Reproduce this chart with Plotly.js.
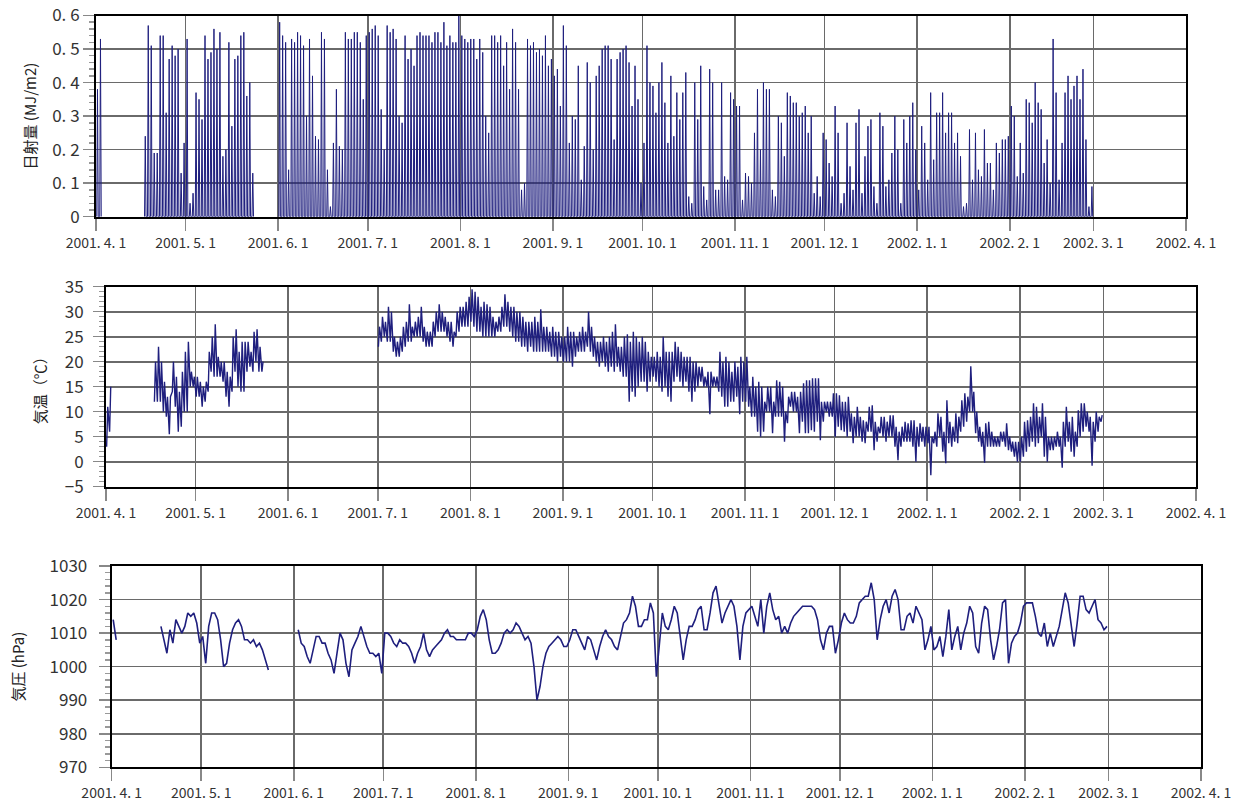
<!DOCTYPE html>
<html><head><meta charset="utf-8">
<script src="https://cdn.plot.ly/plotly-3.0.1.min.js"></script>
<style>html,body{margin:0;padding:0;background:#fff}#chart{width:1240px;height:803px}</style>
</head><body><div id="chart"></div>
<script>
// ---------- tick labels ----------
const monthTicks = ['2001-04-01','2001-05-01','2001-06-01','2001-07-01','2001-08-01','2001-09-01','2001-10-01','2001-11-01','2001-12-01','2002-01-01','2002-02-01','2002-03-01','2002-04-01'];
const monthLabels = ['2001. 4. 1','2001. 5. 1','2001. 6. 1','2001. 7. 1','2001. 8. 1','2001. 9. 1','2001. 10. 1','2001. 11. 1','2001. 12. 1','2002. 1. 1','2002. 2. 1','2002. 3. 1','2002. 4. 1'];
const radTickVals = [0,0.1,0.2,0.3,0.4,0.5,0.6];
const radTickText = ['0','0. 1','0. 2','0. 3','0. 4','0. 5','0. 6'];

// ---------- 日射量: daily peak hourly value (MJ/m2) ----------
const radStartA = '2001-04-01';
const radA = [0.38,0.53];
const radStartB = '2001-04-17';
const radB = [0.24,0.57,0.51,0.19,0.19,0.54,0.54,0.31,0.47,0.51,0.48,0.50,0.13,0.22,0.53,0.04,0.07,0.37,0.35,0.29,0.54,0.47,0.49,0.56,0.50,0.55,0.18,0.20,0.52,0.27,0.47,0.48,0.54,0.55,0.36,0.40,0.13];
const radStartC = '2001-06-01';
const radJun = [0.58,0.54,0.52,0.14,0.53,0.52,0.55,0.54,0.51,0.30,0.53,0.42,0.24,0.23,0.55,0.53,0.14,0.03,0.22,0.38,0.21,0.20,0.55,0.53,0.53,0.55,0.55,0.52,0.35,0.54];
const radJul = [0.55,0.56,0.57,0.54,0.32,0.20,0.57,0.55,0.56,0.53,0.30,0.28,0.54,0.47,0.50,0.45,0.54,0.55,0.54,0.54,0.54,0.52,0.55,0.55,0.52,0.58,0.51,0.54,0.52,0.52,0.60];
const radAug = [0.54,0.53,0.52,0.53,0.53,0.47,0.53,0.49,0.30,0.25,0.54,0.54,0.52,0.54,0.45,0.52,0.38,0.56,0.52,0.38,0.08,0.10,0.53,0.51,0.52,0.49,0.50,0.48,0.54,0.45,0.47];
const radSep = [0.42,0.44,0.33,0.57,0.51,0.22,0.30,0.29,0.45,0.11,0.21,0.46,0.40,0.20,0.42,0.45,0.50,0.51,0.51,0.47,0.23,0.47,0.49,0.50,0.51,0.46,0.33,0.45,0.35,0.10];
const radOct = [0.22,0.51,0.40,0.39,0.31,0.40,0.46,0.34,0.22,0.42,0.24,0.37,0.29,0.37,0.43,0.06,0.04,0.40,0.29,0.45,0.09,0.05,0.44,0.40,0.08,0.08,0.40,0.12,0.11,0.37,0.35];
const radNov = [0.33,0.33,0.05,0.13,0.12,0.10,0.25,0.38,0.20,0.40,0.38,0.38,0.08,0.06,0.30,0.28,0.18,0.37,0.36,0.34,0.34,0.30,0.31,0.33,0.25,0.30,0.07,0.12,0.06,0.25];
const radDec = [0.23,0.16,0.12,0.33,0.25,0.04,0.07,0.28,0.15,0.08,0.28,0.32,0.07,0.18,0.27,0.29,0.09,0.04,0.31,0.27,0.09,0.11,0.19,0.30,0.20,0.04,0.29,0.22,0.30,0.34,0.20];
const radJan = [0.08,0.27,0.22,0.11,0.37,0.17,0.31,0.31,0.37,0.25,0.31,0.31,0.22,0.25,0.18,0.03,0.04,0.26,0.11,0.25,0.14,0.12,0.26,0.16,0.16,0.08,0.22,0.19,0.23,0.23,0.24];
const radFeb = [0.33,0.30,0.12,0.22,0.13,0.35,0.34,0.28,0.40,0.34,0.32,0.16,0.23,0.10,0.53,0.37,0.11,0.22,0.37,0.42,0.35,0.39,0.42,0.35,0.44,0.23,0.03,0.09];

// ---------- 気温: daily min / max (°C) ----------
const tempStartA = '2001-04-01';
const tempMinA = [3,6];
const tempMaxA = [11,15];
const tempStartB = '2001-04-17';
const tempMinB = [12,12,12,10,9,5.5,14,11,6,7,10,10,15,15,13,13,11,12,14,18,17,17,17,16,13,11,14,18,15,14,14,18,19,18,20,18,18];
const tempMaxB = [20,23,20,16,13,13,20,17,14,18,22,24,18,17,17,16,15,16,22,25,27.5,21,20,20,18,17,25,26.5,22,24,24,24,22,26,26.5,23,20];
const tempStartC = '2001-07-01';
const tminJul = [23,24,25,24,24,22,21,21,22,23,24,24,25,25,25,24,23,23,23,25,26,26,26,25,24,23,25,26,27,27,27];
const tmaxJul = [27,29,28,31,30,25,24,25,27,28,31.5,27,28,29,31,27,26,26,28,30,31.5,30,29,28,28,26,30,31,31,32,33];
const tminAug = [28,27,26,26,25,25,25,25,25,26,26,27,27,26,25,24,24,23,23,22,23,22,22,22,22,22,22,21,21,20,21];
const tmaxAug = [34.5,34,33,31,32,31.5,31,29,28,29,31,33.5,32,31,31,30,30,29,28,28,28,29,28,30.5,27,27,26,27,26,26,25];
const tminSep = [20,20,20,19,21,22,22,22,23,22,21,20,19,20,19,18,19,18,19,18,17,17,12,14,13,15,16,16,14,16];
const tmaxSep = [25,27,26,26,25,26,27,26,30,27,25,24,24,25,24,25,26,27.5,23,23,25,25.5,24,26,25,24,25,24,22,21];
const tminOct = [17,16,15,14,15,13,12,16,17,16,15,16,14,12,14,15,16,15,15,9.5,15,15,14,13,11,11,12,12,13,9.5,12];
const tmaxOct = [21,22,21,25,22,22,22,24,23,22,21,21,21,20,20,19,19,17,18,18,17,17,22,20,21,20,18,20,19,21,20];
const tminNov = [12,11,9,9,6,5,6,10,10,5.7,9,9,9,4,7.7,11,10,10,5.7,8,5.7,5.7,6.3,6,8,4.3,8,10,9,9];
const tmaxNov = [21,15,17,15,16,15,12,15,15,12,16.3,16,15,10,13,14,14,13,14,15.7,16.3,16.3,16.7,16.7,16.7,12,12,12,12,13.7];
const tminDec = [5,7,6.3,6,5,6,3.7,5,5,4,3.7,6,6,2.3,4,5.7,5,4,5,5,3,0.3,3,4,4,4,3,0,3,4,3];
const tmaxDec = [13.7,13.3,12,12,13,9.7,9,11,9,8.3,8,11,11.3,8,7,9,9,8,9.3,9.3,7,6,7,8,7.7,8.3,8.3,7,7.7,7,7];
const tminJan = [3.7,-2.7,3.7,3,5,2,-0.3,3.7,3,4,3.7,6,7,8,10,10,5.7,4,3,-0.2,3,3,3,3,3,4,3,2.3,2,1,0];
const tmaxJan = [7,5,6,9.7,9,6,12.3,8,7,9.7,9,12.3,13.7,13,19.1,14,10,7,6,7.7,8,6,5,5,6,6,7.7,5,4,4,4];
const tminFeb = [0,1,2,3,4,3,3.7,5,1,0,2.3,2.3,3,3,-1.2,3,4,2,1,3,5,6,7,6,-0.8,4,6,8];
const tmaxFeb = [5,8,8.3,9,11.7,11,9,11.7,9,5,5,5,6,5,8,11,8,9,6,10.3,11.7,11.7,10,9,8,10,9,9.3];

// ---------- 気圧: daily value (hPa) ----------
const presStartA = '2001-04-01';
const presA = [1014,1008];
const presStartB = '2001-04-17';
const presB = [1012,1008,1004,1011,1007,1014,1012,1010,1012,1016,1015,1016,1013,1007,1009,1001,1012,1016,1016,1014,1008,1000,1001,1007,1011,1013,1014,1012,1008,1008,1007,1008,1006,1007,1005,1002,999];
const presStartC = '2001-06-02';
const presJun = [1011,1007,1006,1003,1001,1005,1009,1009,1007,1007,1004,1002,998,1004,1010,1008,1001,997,1005,1007,1009,1012,1009,1006,1004,1004,1003,1004,998];
const presJul = [1010,1010,1009,1007,1006,1008,1007,1007,1006,1004,1001,1004,1006,1010,1005,1003,1005,1006,1007,1008,1010,1011,1009,1009,1008,1008,1008,1008,1010,1010,1009];
const presAug = [1011,1015,1017,1014,1008,1004,1004,1005,1007,1010,1011,1010,1011,1013,1012,1010,1008,1009,1007,1000,990,994,1000,1004,1006,1007,1008,1009,1008,1006,1006];
const presSep = [1008,1011,1011,1009,1007,1005,1009,1008,1005,1002,1006,1009,1011,1009,1008,1006,1005,1009,1013,1014,1016,1021,1018,1012,1012,1014,1014,1019,1016,997];
const presOct = [1006,1016,1012,1011,1014,1018,1016,1009,1002,1008,1012,1012,1014,1017,1018,1011,1011,1016,1022,1024,1018,1013,1016,1018,1020,1018,1012,1002,1012,1016,1017];
const presNov = [1018,1015,1012,1020,1010,1018,1022,1017,1014,1015,1010,1012,1010,1013,1015,1016,1017,1018,1018,1018,1018,1017,1014,1008,1005,1010,1012,1012,1004,1008];
const presDec = [1013,1016,1014,1013,1013,1015,1019,1020,1021,1021,1025,1020,1008,1014,1018,1020,1016,1021,1023,1020,1011,1011,1015,1016,1013,1018,1016,1014,1005,1008,1012];
const presJan = [1005,1006,1009,1003,1009,1017,1005,1009,1012,1005,1010,1013,1018,1016,1006,1004,1013,1018,1017,1008,1002,1006,1011,1019,1020,1001,1007,1009,1010,1013,1018];
const presFeb = [1019,1019,1019,1015,1010,1009,1013,1006,1010,1006,1009,1012,1017,1022,1019,1013,1006,1013,1021,1021,1017,1016,1018,1020,1014,1013,1011,1012];

// ---------- build traces ----------
function ts(start, day, hour) {
  const t = Date.parse(start + 'T00:00:00Z') + day * 86400000 + hour * 3600000;
  return new Date(t).toISOString().slice(0, 16).replace('T', ' ');
}
const radSegs = [
  [radStartA, radA],
  [radStartB, radB],
  [radStartC, [].concat(radJun, radJul, radAug, radSep, radOct, radNov, radDec, radJan, radFeb)]
];
const rx = [], ry = [];
radSegs.forEach(([s, v]) => {
  v.forEach((p, i) => { rx.push(ts(s, i, 6), ts(s, i, 12), ts(s, i, 18)); ry.push(0, p, 0); });
  rx.push(null); ry.push(null);
});
const tempSegs = [
  [tempStartA, tempMinA, tempMaxA],
  [tempStartB, tempMinB, tempMaxB],
  [tempStartC, [].concat(tminJul, tminAug, tminSep, tminOct, tminNov, tminDec, tminJan, tminFeb),
               [].concat(tmaxJul, tmaxAug, tmaxSep, tmaxOct, tmaxNov, tmaxDec, tmaxJan, tmaxFeb)]
];
const tx = [], ty = [];
tempSegs.forEach(([s, mn, mx]) => {
  mn.forEach((v, i) => { tx.push(ts(s, i, 5), ts(s, i, 14)); ty.push(v, mx[i]); });
  tx.push(null); ty.push(null);
});
const presSegs = [
  [presStartA, presA],
  [presStartB, presB],
  [presStartC, [].concat(presJun, presJul, presAug, presSep, presOct, presNov, presDec, presJan, presFeb)]
];
const px = [], py = [];
presSegs.forEach(([s, v]) => {
  v.forEach((p, i) => { px.push(ts(s, i, 12)); py.push(p); });
  px.push(null); py.push(null);
});

const LINE = '#1f1f7e';
const data = [
  {x: rx, y: ry, xaxis: 'x', yaxis: 'y', type: 'scatter', mode: 'lines', line: {color: LINE, width: 1}, hoverinfo: 'skip'},
  {x: tx, y: ty, xaxis: 'x2', yaxis: 'y2', type: 'scatter', mode: 'lines', line: {color: LINE, width: 1.4}, hoverinfo: 'skip'},
  {x: px, y: py, xaxis: 'x3', yaxis: 'y3', type: 'scatter', mode: 'lines', line: {color: LINE, width: 1.6}, hoverinfo: 'skip'}
];

const FONT = '"Noto Sans CJK JP", "Noto Sans", sans-serif';
function xax(dom, anchor) {
  return {
    domain: dom, anchor: anchor, type: 'date', range: ['2001-04-01', '2002-04-01'],
    tickmode: 'array', tickvals: monthTicks, ticktext: monthLabels,
    ticks: 'outside', ticklen: 12, tickwidth: 1.5, tickcolor: '#888', ticklabelstandoff: 0,
    tickfont: {family: FONT, size: 14, color: '#333'},
    showgrid: true, gridcolor: '#6a6a6a', gridwidth: 1.6,
    showline: true, linecolor: '#000', linewidth: 2, mirror: true, zeroline: false, fixedrange: true
  };
}
function yax(dom, anchor, range, extra) {
  return Object.assign({
    domain: dom, anchor: anchor, range: range,
    ticks: 'outside', ticklen: 11, tickwidth: 1.5, tickcolor: '#888',
    tickfont: {family: FONT, size: 17, color: '#333'},
    showgrid: true, gridcolor: '#6a6a6a', gridwidth: 1.6,
    showline: true, linecolor: '#000', linewidth: 2, mirror: true, zeroline: false, fixedrange: true
  }, extra);
}
const layout = {
  width: 1240, height: 803, margin: {l: 0, r: 0, t: 0, b: 0},
  paper_bgcolor: '#fff', plot_bgcolor: '#fff', showlegend: false,
  xaxis: xax([96/1240, 1186/1240], 'y'),
  yaxis: yax([1 - 216.7/803, 1 - 15.5/803], 'x', [0, 0.6], {
    tickmode: 'array', tickvals: radTickVals, ticktext: radTickText,
    minor: {tickmode: 'linear', tick0: 0, dtick: 0.02, ticks: 'outside', ticklen: 5, tickcolor: '#999', showgrid: false},
    title: {text: '日射量 (MJ/m2)', font: {family: FONT, size: 15, color: '#222'}, standoff: 12}
  }),
  xaxis2: xax([106/1240, 1196/1240], 'y2'),
  yaxis2: yax([1 - 486.7/803, 1 - 286.7/803], 'x2', [-5, 35], {
    tickmode: 'linear', tick0: 0, dtick: 5, ticklabelstandoff: 6,
    minor: {tickmode: 'linear', tick0: 0, dtick: 1, ticks: 'outside', ticklen: 5, tickcolor: '#999', showgrid: false},
    title: {text: '気温（℃）', font: {family: FONT, size: 15, color: '#222'}, standoff: 14}
  }),
  xaxis3: xax([111.7/1240, 1201/1240], 'y3'),
  yaxis3: yax([1 - 767.3/803, 1 - 566/803], 'x3', [970, 1030], {
    tickmode: 'linear', tick0: 970, dtick: 10, ticklabelstandoff: 8,
    minor: {tickmode: 'linear', tick0: 970, dtick: 2, ticks: 'outside', ticklen: 5, tickcolor: '#999', showgrid: false},
    title: {text: '気圧 (hPa)', font: {family: FONT, size: 15, color: '#222'}, standoff: 21}
  })
};
Plotly.newPlot('chart', data, layout, {staticPlot: true, displayModeBar: false});
</script>
</body></html>
